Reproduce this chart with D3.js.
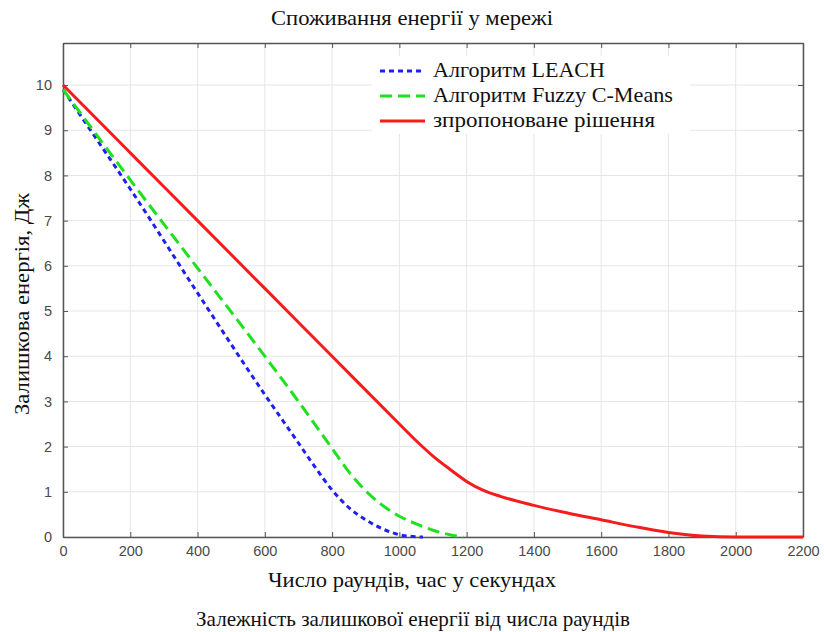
<!DOCTYPE html>
<html>
<head>
<meta charset="utf-8">
<script src="https://cdn.jsdelivr.net/npm/d3@7"></script>
<style>
  body { margin: 0; background: #fff; }
  svg { display: block; }
  .tick text { font-family: "Liberation Sans", Arial, sans-serif; font-size: 14.5px; fill: #4a4a4a; }
  .lbl { font-family: "Liberation Serif", "Times New Roman", serif; fill: #111; }
</style>
</head>
<body>
<div id="chart"></div>
<script>
// Data
var xTicks = [0, 200, 400, 600, 800, 1000, 1200, 1400, 1600, 1800, 2000, 2200];
var yTicks = [0, 1, 2, 3, 4, 5, 6, 7, 8, 9, 10];

var leachX = [0, 100, 200, 400, 600, 700, 750, 800, 850, 900, 950, 1000, 1040, 1070];
var leachY = [9.9, 8.8, 7.7, 5.4, 3.15, 2.08, 1.54, 1.04, 0.65, 0.38, 0.18, 0.05, 0.01, 0];

var fuzzyX = [0, 200, 400, 600, 700, 750, 800, 850, 900, 950, 1000, 1050, 1100, 1150, 1190];
var fuzzyY = [9.9, 7.9, 5.95, 4.0, 3.0, 2.48, 1.96, 1.44, 1.02, 0.7, 0.46, 0.29, 0.15, 0.05, 0];

var propX = [0, 200, 400, 600, 800, 1000, 1050, 1100, 1150, 1200, 1250, 1300, 1400, 1500, 1600, 1700, 1800, 1900, 2000, 2200];
var propY = [10, 8.5, 7.0, 5.5, 4.0, 2.5, 2.13, 1.79, 1.5, 1.23, 1.03, 0.9, 0.7, 0.53, 0.38, 0.23, 0.1, 0.02, 0, 0];

var seriesNames = ['Алгоритм LEACH', 'Алгоритм Fuzzy C-Means', 'зпропоноване рішення'];

var series = [
  { name: seriesNames[0], xs: leachX, ys: leachY, color: '#1f1ff0', dash: '5,4' },
  { name: seriesNames[1], xs: fuzzyX, ys: fuzzyY, color: '#1fe01f', dash: '12,6' },
  { name: seriesNames[2], xs: propX, ys: propY, color: '#f51c1c', dash: null }
];

var width = 824, height = 632;
var margin = { top: 43, right: 21, bottom: 95, left: 63 };
var w = width - margin.left - margin.right,
  h = height - margin.top - margin.bottom;

var svg = d3.select('#chart').append('svg')
  .attr('width', width)
  .attr('height', height);

var x = d3.scaleLinear().domain([0, 2200]).range([0, w]);
var y = d3.scaleLinear().domain([0, 10.93]).range([h, 0]);

var g = svg.append('g').attr('transform', 'translate(' + margin.left + ',' + margin.top + ')');

// grid
g.append('g').selectAll('line').data(xTicks).join('line')
  .attr('x1', function (d) { return x(d); }).attr('x2', function (d) { return x(d); })
  .attr('y1', 0).attr('y2', h)
  .attr('stroke', '#e6e6e6').attr('stroke-width', 1);
g.append('g').selectAll('line').data(yTicks).join('line')
  .attr('y1', function (d) { return y(d); }).attr('y2', function (d) { return y(d); })
  .attr('x1', 0).attr('x2', w)
  .attr('stroke', '#e6e6e6').attr('stroke-width', 1);

// axes (ticks point inward, box on all four sides)
var axisColor = '#555';
function styleAxis(sel, showText) {
  sel.select('.domain').attr('stroke', axisColor).attr('stroke-width', 1.5);
  sel.selectAll('.tick line').attr('stroke', axisColor);
  if (!showText) sel.selectAll('.tick text').remove();
}
g.append('g').attr('transform', 'translate(0,' + h + ')')
  .call(d3.axisBottom(x).tickValues(xTicks).tickFormat(d3.format('d')).tickSize(-5).tickSizeOuter(0).tickPadding(9))
  .call(styleAxis, true);
g.append('g')
  .call(d3.axisTop(x).tickValues(xTicks).tickSize(-5).tickSizeOuter(0))
  .call(styleAxis, false);
g.append('g')
  .call(d3.axisLeft(y).tickValues(yTicks).tickFormat(d3.format('d')).tickSize(-5).tickSizeOuter(0).tickPadding(11))
  .call(styleAxis, true);
g.append('g').attr('transform', 'translate(' + w + ',0)')
  .call(d3.axisRight(y).tickValues(yTicks).tickSize(-5).tickSizeOuter(0))
  .call(styleAxis, false);

// lines
var line = d3.line()
  .x(function (d) { return x(d[0]); })
  .y(function (d) { return y(d[1]); })
  .curve(d3.curveMonotoneX);

series.forEach(function (s) {
  var pts = s.xs.map(function (v, i) { return [v, s.ys[i]]; });
  g.append('path')
    .datum(pts)
    .attr('d', line)
    .attr('fill', 'none')
    .attr('stroke', s.color)
    .attr('stroke-width', 3)
    .attr('stroke-dasharray', s.dash);
});

// legend
var lg = svg.append('g').attr('transform', 'translate(372,56)');
lg.append('rect').attr('x', 0).attr('y', 0).attr('width', 318).attr('height', 78).attr('fill', '#fff');
series.forEach(function (s, i) {
  var yy = 15 + i * 25;
  lg.append('line')
    .attr('x1', 8).attr('x2', 53).attr('y1', yy).attr('y2', yy)
    .attr('stroke', s.color).attr('stroke-width', 3)
    .attr('stroke-dasharray', s.dash);
  lg.append('text').attr('class', 'lbl')
    .attr('x', 61).attr('y', yy + 6)
    .attr('font-size', 21)
    .attr('textLength', [172, 240, 222][i])
    .attr('lengthAdjust', 'spacingAndGlyphs')
    .text(s.name);
});

// titles
function label(txt, tx, ty, len, rot) {
  svg.append('text').attr('class', 'lbl')
    .attr('transform', 'translate(' + tx + ',' + ty + ')' + (rot ? ' rotate(-90)' : ''))
    .attr('text-anchor', 'middle').attr('font-size', 21)
    .attr('textLength', len).attr('lengthAdjust', 'spacingAndGlyphs')
    .text(txt);
}
label('Споживання енергії у мережі', 412, 25, 282);
label('Число раундів, час у секундах', 412, 587, 288);
label('Залежність залишкової енергії від числа раундів', 413, 626, 434);
label('Залишкова енергія, Дж', 29, 304, 222, true);
</script>
</body>
</html>
